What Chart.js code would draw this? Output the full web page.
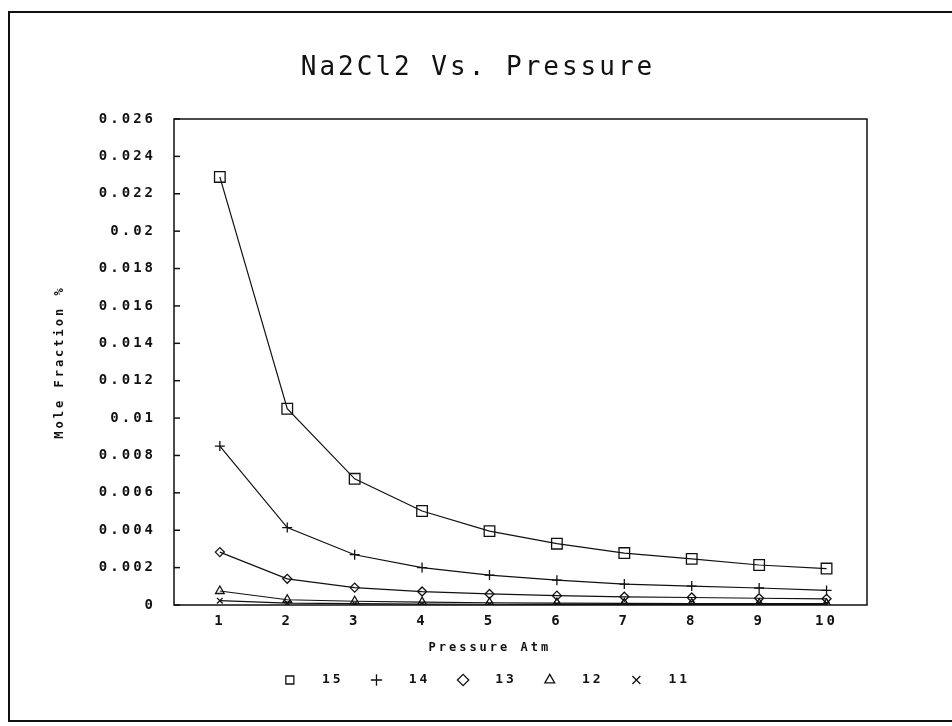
<!DOCTYPE html>
<html>
<head>
<meta charset="utf-8">
<script src="https://cdn.jsdelivr.net/npm/chart.js@4.4.1/dist/chart.umd.min.js"></script>
<style>
  html, body { margin: 0; background: #fff; }
  #frame { position: absolute; left: 8px; top: 11px; width: 1000px; height: 707px;
           border-left: 2px solid #111; border-top: 2px solid #111; border-bottom: 2px solid #111; }
  #box { position: absolute; left: 10px; top: 12px; width: 936px; height: 710px; }
</style>
</head>
<body>
<div id="frame"></div>
<div id="box"><canvas id="chart"></canvas></div>
<script>
// pressure (atm) on the x axis
var pressure = [1, 2, 3, 4, 5, 6, 7, 8, 9, 10];
var yTicks = [0, 0.002, 0.004, 0.006, 0.008, 0.01, 0.012, 0.014, 0.016, 0.018, 0.02, 0.022, 0.024, 0.026];
var yTickLabels = ['0', '0.002', '0.004', '0.006', '0.008', '0.01', '0.012', '0.014', '0.016', '0.018', '0.02', '0.022', '0.024', '0.026'];

// mole fraction, one list per curve
var s15 = [0.0229, 0.0105, 0.00675, 0.00503, 0.00395, 0.00328, 0.00278, 0.00247, 0.00214, 0.00195];
var s14 = [0.0085, 0.00414, 0.00269, 0.0020, 0.0016, 0.00133, 0.00112, 0.00101, 0.00091, 0.00078];
var s13 = [0.00283, 0.0014, 0.00093, 0.00072, 0.00059, 0.0005, 0.00044, 0.0004, 0.00036, 0.00033];
var s12 = [0.00075, 0.00028, 0.0002, 0.00015, 0.00012, 0.0001, 0.00009, 0.00008, 0.00007, 0.00007];
var s11 = [0.00023, 0.0001, 0.00007, 0.00005, 0.00004, 0.00003, 0.00003, 0.00002, 0.00002, 0.00002];

var seriesNames = ['15', '14', '13', '12', '11'];
var seriesData = [s15, s14, s13, s12, s11];
var markers = ['rect', 'cross', 'rectRot', 'triangle', 'crossRot'];
var markerSize = [7.5, 5, 4.5, 5, 4];

var mono = 'DejaVu Sans Mono';
var ink = '#111';

function points(values) {
    return values.map(function(v, i) { return {x: pressure[i], y: v}; });
}

var datasets = seriesData.map(function(values, i) {
    return {
        label: seriesNames[i],
        data: points(values),
        borderColor: ink,
        borderWidth: 1.2,
        pointStyle: markers[i],
        pointRadius: markerSize[i],
        pointBorderColor: ink,
        pointBackgroundColor: 'rgba(0,0,0,0)',
        pointBorderWidth: 1.3,
        fill: false,
        tension: 0
    };
});

// plotter-like wide lettering
var spacing = {
    id: 'spacing',
    beforeUpdate: function(chart) { chart.ctx.letterSpacing = '3px'; },
    beforeDraw: function(chart) { chart.ctx.letterSpacing = '3px'; }
};

// box round the plot and short inward ticks on the y axis
var plotFrame = {
    id: 'plotFrame',
    afterDraw: function(chart) {
        var ctx = chart.ctx, a = chart.chartArea, y = chart.scales.y;
        ctx.save();
        ctx.strokeStyle = ink;
        ctx.lineWidth = 1.5;
        ctx.strokeRect(a.left, a.top, a.right - a.left, a.bottom - a.top);
        y.ticks.forEach(function(t, i) {
            var py = y.getPixelForTick(i);
            ctx.beginPath();
            ctx.moveTo(a.left, py);
            ctx.lineTo(a.left + 6, py);
            ctx.stroke();
        });
        ctx.restore();
    }
};

var ctx = document.getElementById('chart');
new Chart(ctx, {
    type: 'line',
    data: {datasets: datasets},
    plugins: [spacing, plotFrame],
    options: {
        responsive: true,
        maintainAspectRatio: false,
        animation: false,
        layout: {padding: {bottom: 25.5}},
        plugins: {
            title: {
                display: true,
                text: 'Na2Cl2 Vs. Pressure',
                color: ink,
                font: {family: mono, size: 26, weight: 'normal'},
                padding: {top: 41, bottom: 34.8}
            },
            legend: {
                position: 'bottom',
                fullSize: false,
                labels: {
                    usePointStyle: true,
                    boxWidth: 8,
                    boxHeight: 8,
                    padding: 18,
                    color: ink,
                    font: {family: mono, size: 13, weight: 'bold'},
                    generateLabels: function(chart) {
                        var items = Chart.defaults.plugins.legend.labels.generateLabels(chart);
                        items.forEach(function(it, i) {
                            it.text = '  ' + it.text + (i < items.length - 1 ? ' ' : '      ');
                        });
                        return items;
                    }
                }
            },
            tooltip: {enabled: false}
        },
        scales: {
            x: {
                type: 'linear',
                min: 0.32,
                max: 10.6,
                afterBuildTicks: function(scale) {
                    scale.ticks = pressure.map(function(v) { return {value: v}; });
                },
                afterFit: function(scale) { scale.height = 50.5; },
                grid: {display: false, drawTicks: false, tickLength: 0},
                border: {display: false},
                ticks: {
                    color: ink,
                    font: {family: mono, size: 14, weight: 'bold'},
                    padding: 7.6,
                    maxRotation: 0,
                    autoSkip: false,
                    callback: function(v) { return String(v); }
                },
                title: {
                    display: true,
                    text: 'Pressure Atm      ',
                    color: ink,
                    font: {family: mono, size: 12, weight: 'bold'},
                    padding: {top: 0, bottom: 0}
                }
            },
            y: {
                min: 0,
                max: 0.026,
                afterBuildTicks: function(scale) {
                    scale.ticks = yTicks.map(function(v) { return {value: v}; });
                },
                afterFit: function(scale) { scale.width = 164; },
                grid: {display: false, drawTicks: false, tickLength: 0},
                border: {display: false},
                ticks: {
                    color: ink,
                    font: {family: mono, size: 14, weight: 'bold'},
                    padding: 18,
                    callback: function(v) { return yTickLabels[yTicks.indexOf(v)]; }
                },
                title: {
                    display: true,
                    text: 'Mole Fraction %',
                    color: ink,
                    font: {family: mono, size: 12, weight: 'bold'},
                    padding: {top: 42.8, bottom: 0}
                }
            },
            // empty margin on the right of the plot box
            yRight: {
                position: 'right',
                display: true,
                afterFit: function(scale) { scale.width = 79; },
                grid: {display: false, drawTicks: false},
                border: {display: false},
                ticks: {display: false}
            }
        }
    }
});
</script>
</body>
</html>
